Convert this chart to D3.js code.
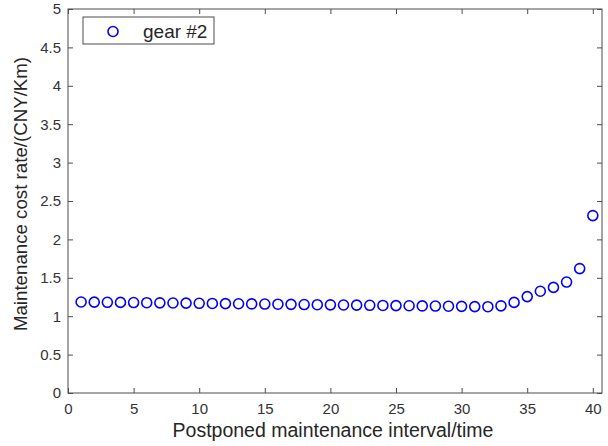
<!DOCTYPE html>
<html>
<head>
<meta charset="utf-8">
<script src="https://cdn.jsdelivr.net/npm/d3@7"></script>
<style>
  body { margin: 0; background: #fff; }
  text { font-family: "Liberation Sans", Arial, sans-serif; }
</style>
</head>
<body>
<div id="chart"></div>
<script>
//data
var intervals = d3.range(1, 41);
var costRate = [1.185, 1.183, 1.181, 1.180, 1.178, 1.176, 1.174, 1.172, 1.170, 1.168,
                1.166, 1.164, 1.162, 1.160, 1.158, 1.156, 1.154, 1.152, 1.150, 1.148,
                1.146, 1.144, 1.142, 1.140, 1.138, 1.136, 1.134, 1.132, 1.130, 1.128,
                1.125, 1.124, 1.135, 1.180, 1.255, 1.325, 1.375, 1.445, 1.620, 2.310];
var xTicks = [0, 5, 10, 15, 20, 25, 30, 35, 40];
var yTicks = [0, 0.5, 1, 1.5, 2, 2.5, 3, 3.5, 4, 4.5, 5];
var seriesName = "gear #2";

//set the dimensions and margins of the graph
var margin = {top: 9, right: 6, bottom: 53, left: 68},
    width = 608 - margin.left - margin.right,
    height = 446 - margin.top - margin.bottom;

var svg = d3.select("#chart").append("svg")
    .attr("width", 608)
    .attr("height", 446)
    .append("g")
    .attr("transform", "translate(" + margin.left + "," + margin.top + ")");

var x = d3.scaleLinear().domain([0, 40.7]).range([0, width]);
var y = d3.scaleLinear().domain([0, 5]).range([height, 0]);

var axisColor = "#4d4d4d", tickLen = 5;

//box
svg.append("rect")
    .attr("width", width).attr("height", height)
    .attr("fill", "none").attr("stroke", axisColor).attr("stroke-width", 1);

function styleAxis(g) {
  g.select(".domain").remove();
  g.selectAll(".tick line").attr("stroke", axisColor);
  g.selectAll(".tick text").attr("fill", "#333").style("font-size", "15px");
}

//bottom and left axes, ticks pointing inwards
svg.append("g")
    .attr("transform", "translate(0," + height + ")")
    .call(d3.axisBottom(x).tickValues(xTicks).tickSizeInner(-tickLen).tickPadding(10))
    .call(styleAxis);

svg.append("g")
    .call(d3.axisLeft(y).tickValues(yTicks).tickFormat(d3.format("")).tickSizeInner(-tickLen).tickPadding(7))
    .call(styleAxis);

//top and right ticks
svg.append("g")
    .call(d3.axisTop(x).tickValues(xTicks).tickSizeInner(-tickLen).tickFormat(""))
    .call(styleAxis);

svg.append("g")
    .attr("transform", "translate(" + width + ",0)")
    .call(d3.axisRight(y).tickValues(yTicks).tickSizeInner(-tickLen).tickFormat(""))
    .call(styleAxis);

//points
svg.append("g")
    .selectAll("circle")
    .data(intervals)
    .join("circle")
    .attr("cx", (d) => x(d))
    .attr("cy", (d, i) => y(costRate[i]))
    .attr("r", 5)
    .attr("fill", "none")
    .attr("stroke", "#0000ff")
    .attr("stroke-width", 1.6);

//axis titles
svg.append("text")
    .attr("x", width / 2 - 2)
    .attr("y", height + 44)
    .attr("text-anchor", "middle")
    .attr("fill", "#262626")
    .style("font-size", "19.5px")
    .text("Postponed maintenance interval/time");

svg.append("text")
    .attr("transform", "translate(" + (-41) + "," + (height / 2 - 7) + ") rotate(-90)")
    .attr("text-anchor", "middle")
    .attr("fill", "#262626")
    .style("font-size", "18.7px")
    .text("Maintenance cost rate/(CNY/Km)");

//legend
var legend = svg.append("g").attr("transform", "translate(15,8)");
legend.append("rect")
    .attr("width", 131).attr("height", 27)
    .attr("fill", "#fff").attr("stroke", axisColor);
legend.append("circle")
    .attr("cx", 30).attr("cy", 14.5).attr("r", 5)
    .attr("fill", "none").attr("stroke", "#0000ff").attr("stroke-width", 1.6);
legend.append("text")
    .attr("x", 60).attr("y", 20.5)
    .attr("fill", "#262626")
    .style("font-size", "19px")
    .text(seriesName);
</script>
</body>
</html>
